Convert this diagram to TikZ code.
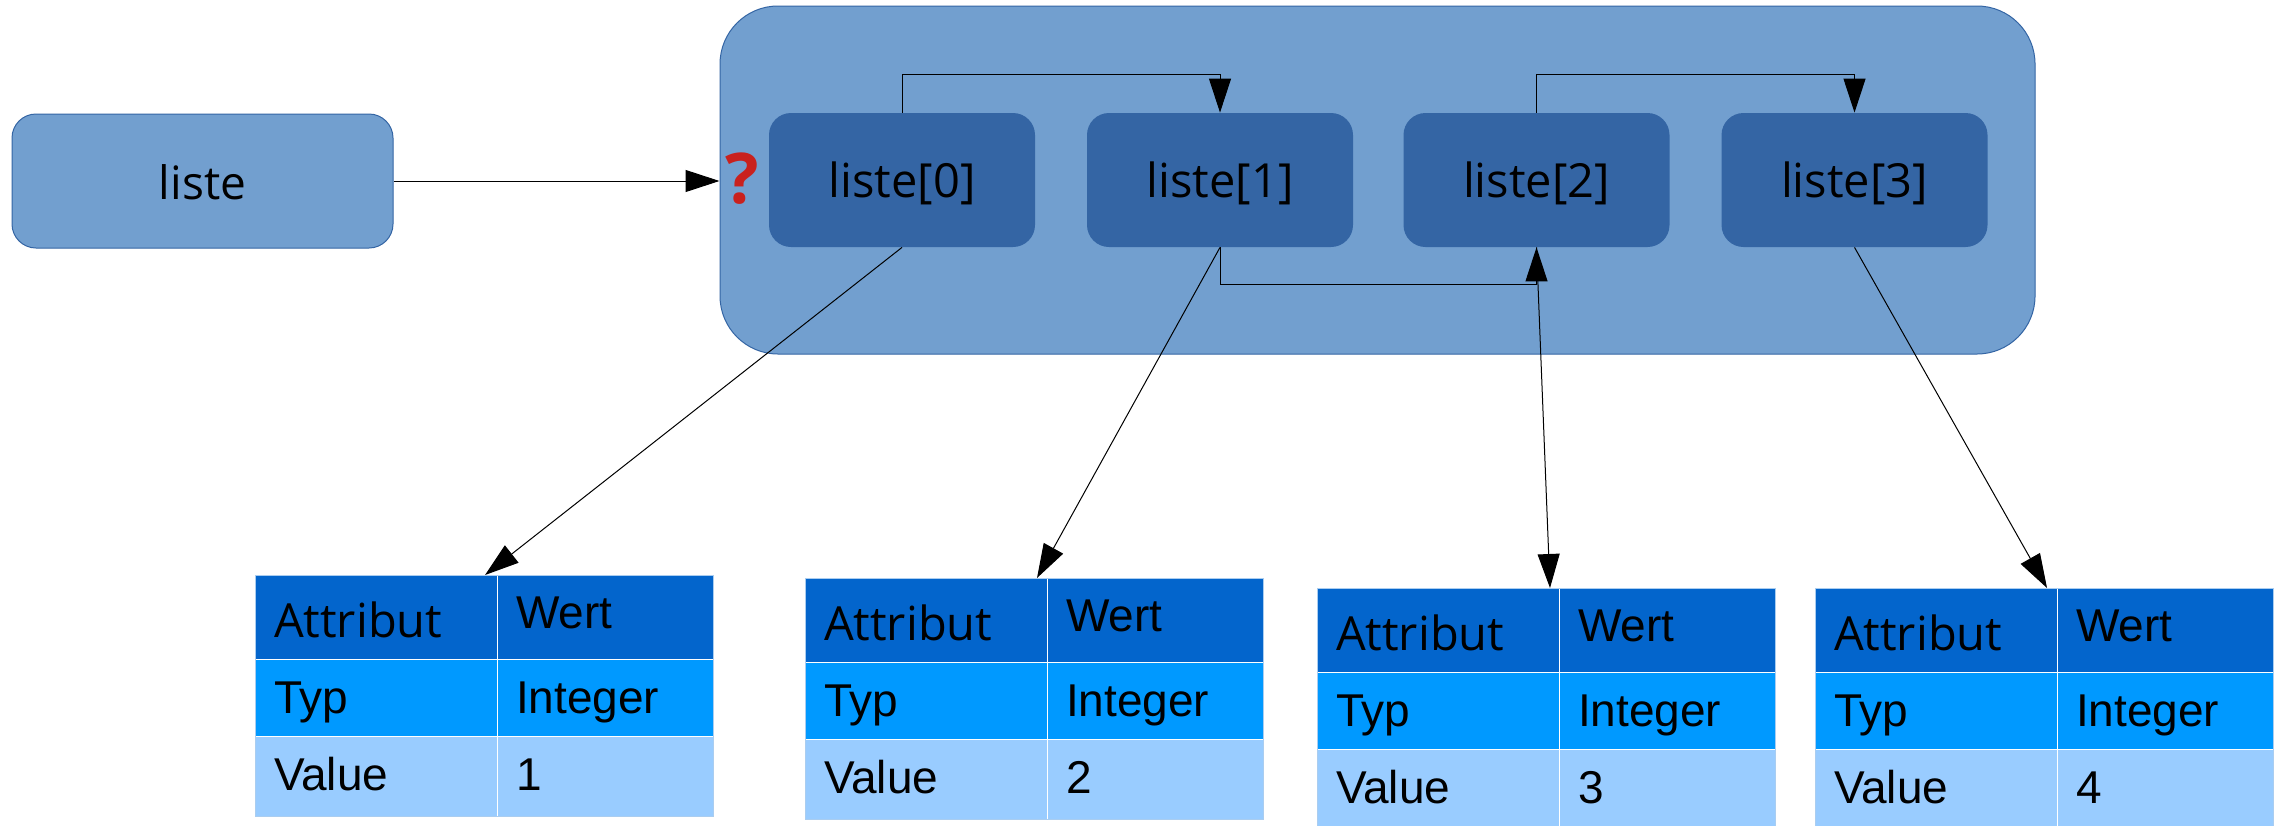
\documentclass[tikz,border=0pt]{standalone}
\usepackage{fontspec}
\setmainfont{Open Sans}
\newfontfamily\arialf{Liberation Sans}
\usetikzlibrary{arrows.meta,calc}
\definecolor{lightblue}{RGB}{114,159,207}
\definecolor{darkblue}{RGB}{52,101,164}
\definecolor{hdrc}{RGB}{3,101,204}
\definecolor{midc}{RGB}{0,153,255}
\definecolor{lowc}{RGB}{153,204,255}
\definecolor{qred}{RGB}{201,33,30}
\definecolor{tabedge}{RGB}{170,205,240}

\tikzset{
  listbox/.style={rectangle, rounded corners=12pt, minimum width=190.5pt, minimum height=67pt,
    fill=lightblue, draw=darkblue, line width=0.5pt, inner sep=0pt, text height=18pt, text depth=0pt,
    font=\fontsize{23}{27}\selectfont},
  elem/.style={rectangle, rounded corners=11pt, minimum width=133pt, minimum height=67pt,
    fill=darkblue, inner sep=0pt, text height=17pt, text depth=0pt,
    font=\fontsize{23.5}{27}\selectfont},
  container/.style={rectangle, rounded corners=29pt, minimum width=657.5pt, minimum height=174pt,
    fill=lightblue, draw=darkblue, line width=0.5pt, inner sep=0pt},
  cell/.style={rectangle, draw=white, line width=0.4pt, inner xsep=9.5pt, inner ysep=0pt,
    outer sep=0pt, align=left, text depth=0pt, anchor=north west,
    font=\arialf\fontsize{23}{27}\selectfont},
  lcol/.style={minimum width=121pt, text width=102pt},
  rcol/.style={minimum width=108pt, text width=89pt},
  hdr/.style={fill=hdrc, minimum height=42pt},
  mid/.style={fill=midc, minimum height=38.5pt, text height=15.5pt},
  low/.style={fill=lowc, minimum height=40pt, text height=14pt},
  conn/.style={draw=black, line width=0.5pt},
  arr/.style={conn, -{Triangle[length=17pt,width=11pt]}},
}

\newcommand{\attrtable}[4]{%
  \node[cell, hdr, lcol, text height=20pt, font=\fontsize{23.5}{27}\selectfont] (#1a) at (#2,#3) {Attribut};
  \node[cell, hdr, rcol, text height=11pt] (#1b) at (#1a.north east) {Wert};
  \node[cell, mid, lcol] (#1c) at (#1a.south west) {Typ};
  \node[cell, mid, rcol] (#1d) at (#1c.north east) {Integer};
  \node[cell, low, lcol] (#1e) at (#1c.south west) {Value};
  \node[cell, low, rcol] (#1f) at (#1e.north east) {#4};
  \draw[tabedge, line width=0.4pt] (#1a.north west) rectangle (#1f.south east);
}

\begin{document}
\begin{tikzpicture}[x=0.5pt, y=-0.5pt]
\clip (0,0) rectangle (2284,825);
\fill[white] (0,0) rectangle (2284,825);

% container and list elements
\node[container] (cont) at (1377.5,180) {};
\node[listbox] (liste) at (202.5,181) {liste};
\node[elem] (l0) at (902,180) {liste[0]};
\node[elem] (l1) at (1220,180) {liste[1]};
\node[elem] (l2) at (1536.5,180) {liste[2]};
\node[elem] (l3) at (1854.5,180) {liste[3]};
\node[text=qred, inner sep=0pt, font=\bfseries\fontsize{35}{40}\selectfont] (q) at (742,179) {?};

% tables
\attrtable{ta}{255}{575}{1}
\attrtable{tb}{805}{578}{2}
\attrtable{tc}{1317}{588}{3}
\attrtable{td}{1815}{588}{4}

% connectors
\draw[arr] (liste.east) -- (liste.east -| cont.west);
\draw[arr] (l0.north) -- ++(0,-38) -| (l1.north);
\draw[arr] (l2.north) -- ++(0,-38) -| (l3.north);
\draw[arr] (l1.south) -- ++(0,37) -| (l2.south);
\draw[arr] (l0.south) -- ($(taa.north east)+(-12,0)$);
\draw[arr] (l1.south) -- ($(tba.north east)+(-10,0)$);
\draw[arr] (l2.south) -- ($(tca.north east)+(-9,0)$);
\draw[arr] (l3.south) -- ($(tda.north east)+(-10,0)$);
\end{tikzpicture}
\end{document}
